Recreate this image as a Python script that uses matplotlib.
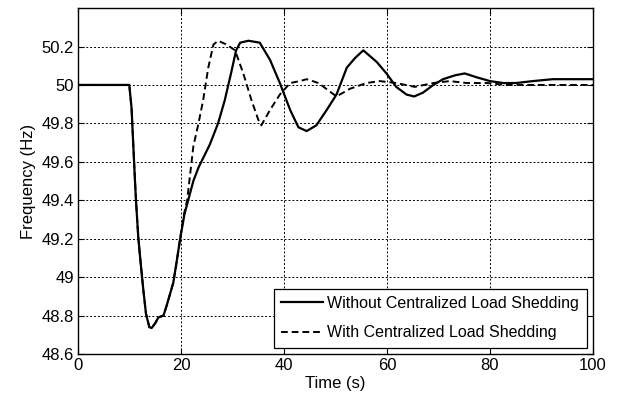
import matplotlib
matplotlib.use("Agg")
import matplotlib.pyplot as plt
from matplotlib import font_manager

names = {f.name for f in font_manager.fontManager.ttflist}
fam = [n for n in ["Liberation Sans Narrow", "Liberation Sans", "DejaVu Sans"] if n in names]
plt.rcParams['font.family'] = fam

# Without centralized load shedding
t_without = [0, 5, 9.96, 10.4, 11.07, 11.26, 11.7, 12.04, 12.7, 13.2, 13.85, 14.3, 15.0, 15.6,
             16.6, 17.2, 18.5, 19.1, 19.9, 20.7, 21.4, 22.4, 23.4, 25.6, 27.2, 28.5, 29.8,
             30.7, 31.5, 33.1, 35.3, 37.3, 39.2, 41.2, 42.8, 44.4, 46.3, 48.3, 50.2, 52.2,
             53.8, 55.4, 58.0, 59.9, 61.8, 63.8, 65.3, 67.0, 69.0, 70.9, 73.2, 75.1, 77.4,
             80.0, 82.6, 85.1, 88.3, 92.2, 94.8, 97.5, 100]
f_without = [50, 50, 50, 49.88, 49.50, 49.40, 49.21, 49.11, 48.93, 48.81, 48.74, 48.735, 48.76, 48.79,
             48.80, 48.85, 48.97, 49.07, 49.21, 49.33, 49.40, 49.50, 49.57, 49.69, 49.80, 49.92, 50.07,
             50.18, 50.22, 50.23, 50.22, 50.13, 50.01, 49.87, 49.78, 49.76, 49.79, 49.87, 49.95, 50.09,
             50.14, 50.18, 50.12, 50.06, 49.99, 49.95, 49.94, 49.96, 50.00, 50.03, 50.05, 50.06, 50.04,
             50.02, 50.01, 50.01, 50.02, 50.03, 50.03, 50.03, 50.03]

# With centralized load shedding
t_with = [0, 5, 9.96, 10.4, 11.07, 11.26, 11.7, 12.04, 12.7, 13.2, 13.85, 14.3, 15.0, 15.6,
          16.6, 17.2, 18.5, 19.1, 19.9, 20.6, 21.2, 22.4, 23.4, 24.3, 25.3, 26.3, 27.2, 28.9,
          30.5, 32.1, 33.7, 35.0, 35.6, 37.3, 39.2, 41.2, 43.1, 44.4, 46.7, 50.2, 52.8,
          56.0, 58.6, 61.8, 65.4, 69.0, 72.2, 75.5, 79.4, 83.2, 88.3, 100]
f_with = [50, 50, 50, 49.88, 49.50, 49.40, 49.21, 49.11, 48.93, 48.81, 48.74, 48.735, 48.76, 48.79,
          48.80, 48.85, 48.97, 49.07, 49.21, 49.33, 49.40, 49.68, 49.80, 49.92, 50.09, 50.21, 50.23, 50.21,
          50.18, 50.06, 49.92, 49.82, 49.79, 49.87, 49.95, 50.01, 50.02, 50.03, 50.01, 49.94, 49.98,
          50.01, 50.02, 50.01, 49.99, 50.01, 50.02, 50.01, 50.01, 50.00, 50.00, 50.00]

xticks = [0, 20, 40, 60, 80, 100]
yticks = [48.6, 48.8, 49.0, 49.2, 49.4, 49.6, 49.8, 50.0, 50.2]
ytick_labels = ["48.6", "48.8", "49", "49.2", "49.4", "49.6", "49.8", "50", "50.2"]

fig = plt.figure(figsize=(6.17, 4.04), dpi=100)
ax = fig.add_axes([0.1264, 0.1238, 0.961 - 0.1264, 0.980 - 0.1238])

ax.plot(t_without, f_without, color='black', lw=1.6, linestyle='-',
        label='Without Centralized Load Shedding')
ax.plot(t_with, f_with, color='black', lw=1.4, linestyle=(0, (3.5, 2)),
        label='With Centralized Load Shedding')

ax.set_xlim(0, 100)
ax.set_ylim(48.6, 50.4)
ax.set_xticks(xticks)
ax.set_yticks(yticks)
ax.set_yticklabels(ytick_labels)
ax.tick_params(direction='in', top=True, right=True, labelsize=12, length=4, width=0.8, pad=3)
ax.grid(True, color='black', linestyle=(0, (2, 2)), linewidth=0.7)
for s in ax.spines.values():
    s.set_linewidth(1.0)

ax.set_xlabel('Time (s)', fontsize=12, labelpad=2)
ax.set_ylabel('Frequency (Hz)', fontsize=12, labelpad=4)

leg = ax.legend(loc='lower right', fontsize=11.5, frameon=True, fancybox=False,
                edgecolor='black', framealpha=1, handlelength=2.6, handletextpad=0.3,
                borderpad=0.45, labelspacing=0.9, borderaxespad=0.4)
leg.get_frame().set_linewidth(0.9)

fig.savefig('out.png', dpi=100)
